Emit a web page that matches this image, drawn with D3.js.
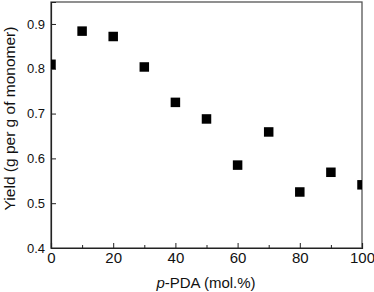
<!DOCTYPE html>
<html><head><meta charset="utf-8">
<script src="https://cdn.jsdelivr.net/npm/d3@7"></script>
<style>body{margin:0;background:#fff}svg{display:block}text{font-family:"Liberation Sans",Arial,sans-serif;fill:#111}</style>
</head><body>
<script>
const pdaContent = [0, 10, 20, 30, 40, 50, 60, 70, 80, 90, 100];
const yieldValues = [0.810, 0.884, 0.872, 0.804, 0.725, 0.688, 0.585, 0.659, 0.525, 0.569, 0.541];
const xTicks = [0, 20, 40, 60, 80, 100];
const xMinorTicks = [10, 30, 50, 70, 90];
const yTicks = [0.4, 0.5, 0.6, 0.7, 0.8, 0.9];

const W = 374, H = 292;
const m = {left: 51, right: 12, top: 2, bottom: 44};
const svg = d3.select("body").append("svg").attr("width", W).attr("height", H);
const x = d3.scaleLinear().domain([0, 100]).range([m.left, W - m.right]);
const y = d3.scaleLinear().domain([0.4, 0.949]).range([H - m.bottom, m.top]);

svg.append("defs").append("clipPath").attr("id", "clip")
  .append("rect").attr("x", m.left).attr("y", m.top)
  .attr("width", W - m.right - m.left).attr("height", H - m.bottom - m.top);

// frame
svg.append("rect").attr("x", m.left).attr("y", m.top)
  .attr("width", W - m.right - m.left).attr("height", H - m.bottom - m.top)
  .attr("fill", "none").attr("stroke", "#555").attr("stroke-width", 1.3);

// x axis
svg.append("g").attr("class", "xax").attr("transform", `translate(0,${H - m.bottom})`)
  .call(d3.axisBottom(x).tickValues(xTicks).tickSize(-5).tickPadding(4).tickFormat(d3.format("d")));
svg.append("g").attr("transform", `translate(0,${H - m.bottom})`)
  .call(d3.axisBottom(x).tickValues(xMinorTicks).tickSize(-3).tickFormat(""))
  .call(g => g.select(".domain").remove());
// y axis
svg.append("g").attr("class", "yax").attr("transform", `translate(${m.left},0)`)
  .call(d3.axisLeft(y).tickValues(yTicks).tickSize(-5).tickPadding(6).tickFormat(d3.format(".1f")));

svg.selectAll(".domain").attr("stroke", "#222").attr("stroke-width", 1.2);
svg.selectAll(".tick line").attr("stroke", "#222");
svg.selectAll(".tick text").attr("fill", "#111")
  .style("font-family", '"Liberation Sans",Arial,sans-serif');
svg.selectAll(".xax .tick text").attr("font-size", 15);
svg.selectAll(".yax .tick text").attr("font-size", 13);

// markers
const s = 9.5;
svg.append("g").attr("clip-path", "url(#clip)")
  .selectAll("rect").data(pdaContent).join("rect")
  .attr("x", (d) => x(d) - s / 2)
  .attr("y", (d, i) => y(yieldValues[i]) - s / 2)
  .attr("width", s).attr("height", s).attr("fill", "#000");

// labels
const xl = svg.append("text").attr("x", 206).attr("y", 288)
  .attr("text-anchor", "middle").attr("font-size", 15);
xl.append("tspan").attr("font-style", "italic").text("p");
xl.append("tspan").text("-PDA (mol.%)");

svg.append("text").attr("transform", `translate(14.5,118.5) rotate(-90)`)
  .attr("text-anchor", "middle").attr("font-size", 15.5).text("Yield (g per g of monomer)");
</script>
</body></html>
